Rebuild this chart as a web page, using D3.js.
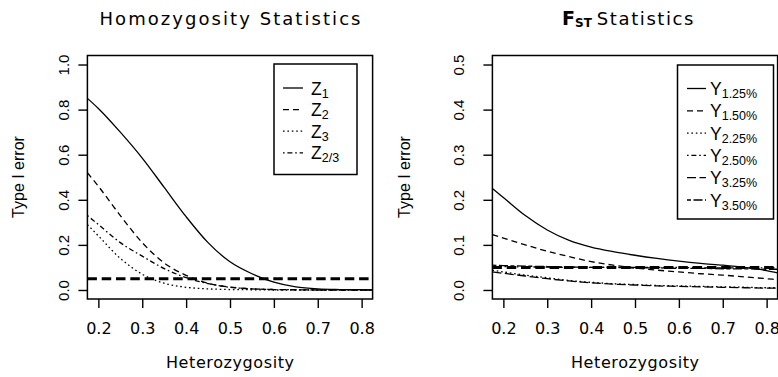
<!DOCTYPE html>
<html><head><meta charset="utf-8">
<script src="https://cdn.jsdelivr.net/npm/d3@7/dist/d3.min.js"></script>
<style>
html,body{margin:0;padding:0;background:#fff;}
svg{display:block;}
</style></head>
<body><svg id="c" width="778" height="377"></svg>
<script>
// ---------- data ----------
const het = [0.175, 0.2, 0.25, 0.3, 0.35, 0.4, 0.45, 0.5, 0.55, 0.6, 0.65, 0.7, 0.75, 0.8, 0.825];

const Z1  = [0.85, 0.805, 0.70, 0.585, 0.455, 0.325, 0.21, 0.125, 0.072, 0.035, 0.014, 0.005, 0.002, 0.001, 0.0];
const Z2  = [0.52, 0.46, 0.33, 0.21, 0.12, 0.065, 0.03, 0.013, 0.005, 0.002, 0.001, 0.0, 0.0, 0.0, 0.0];
const Z3  = [0.29, 0.24, 0.14, 0.07, 0.03, 0.012, 0.005, 0.002, 0.001, 0.0, 0.0, 0.0, 0.0, 0.0, 0.0];
const Z23 = [0.33, 0.29, 0.21, 0.15, 0.095, 0.055, 0.028, 0.012, 0.005, 0.002, 0.001, 0.0, 0.0, 0.0, 0.0];

const Y125 = [0.225, 0.205, 0.165, 0.133, 0.11, 0.095, 0.085, 0.077, 0.07, 0.064, 0.059, 0.055, 0.05, 0.043, 0.038];
const Y150 = [0.123, 0.115, 0.10, 0.086, 0.074, 0.063, 0.055, 0.049, 0.044, 0.04, 0.036, 0.033, 0.029, 0.025, 0.023];
const Y225 = [0.044, 0.040, 0.033, 0.027, 0.021, 0.017, 0.014, 0.012, 0.010, 0.009, 0.008, 0.007, 0.006, 0.005, 0.005];
const Y250 = [0.052, 0.052, 0.051, 0.051, 0.050, 0.050, 0.050, 0.050, 0.050, 0.050, 0.049, 0.049, 0.049, 0.049, 0.049];
const Y325 = [0.040, 0.037, 0.031, 0.025, 0.020, 0.016, 0.013, 0.011, 0.009, 0.008, 0.007, 0.006, 0.005, 0.004, 0.004];
const Y350 = [0.055, 0.054, 0.053, 0.052, 0.051, 0.050, 0.050, 0.049, 0.049, 0.048, 0.048, 0.047, 0.047, 0.046, 0.046];

const xTicks = [0.2, 0.3, 0.4, 0.5, 0.6, 0.7, 0.8];
const yTicksL = [0.0, 0.2, 0.4, 0.6, 0.8, 1.0];
const yTicksR = [0.0, 0.1, 0.2, 0.3, 0.4, 0.5];
const threshold = 0.05;

const zNames = [["Z","1"],["Z","2"],["Z","3"],["Z","2/3"]];
const yNames = [["Y","1.25%"],["Y","1.50%"],["Y","2.25%"],["Y","2.50%"],["Y","3.25%"],["Y","3.50%"]];

// ---------- styles ----------
const dashes = {solid:null, dashed:"6,4", dotted:"1.6,2.8", dotdash:"1.6,2.8,5,2.8", longdash:"9,3.5", twodash:"4,2.5,9,2.5"};

const svg = d3.select("#c");
const sansR = "'Liberation Sans', Arial, Helvetica, sans-serif";
const sansD = "'DejaVu Sans', Verdana, sans-serif";

function panel(o){
  const x = d3.scaleLinear().domain([0.175, 0.825]).range([o.left, o.left + 285.2]);
  const y = d3.scaleLinear().domain(o.ydom).range([o.bottom, o.top]);
  const g = svg.append("g");

  // x axis
  const xa = g.append("g").attr("transform", `translate(0,${o.bottom})`)
    .call(d3.axisBottom(x).tickValues(xTicks).tickSize(9).tickPadding(15).tickFormat(d3.format(".1f")));
  xa.select(".domain").remove();
  xa.selectAll("line").attr("stroke","#000").attr("stroke-width",1.4);
  xa.selectAll("text").attr("font-family", sansD).attr("font-size", 16).attr("fill","#000");

  // y axis
  const ya = g.append("g").attr("transform", `translate(${o.left},0)`)
    .call(d3.axisLeft(y).tickValues(o.yTicks).tickSize(9).tickFormat(d3.format(".1f")));
  ya.select(".domain").remove();
  ya.selectAll("line").attr("stroke","#000").attr("stroke-width",1.4);
  ya.selectAll("text")
    .attr("font-family", sansR).attr("font-size", 15).attr("fill","#000")
    .attr("text-anchor","middle").attr("dy", null).attr("x", null)
    .attr("transform", d => `translate(${o.ylabX - o.left},0) rotate(-90)`)
    .attr("dominant-baseline","central");

  // clip
  const cid = "clip" + o.id;
  svg.append("clipPath").attr("id", cid).append("rect")
    .attr("x", x.range()[0]).attr("y", o.top).attr("width", x.range()[1]-x.range()[0]).attr("height", o.bottom - o.top);
  const pg = g.append("g").attr("clip-path", `url(#${cid})`);

  // threshold
  pg.append("line").attr("x1", x.range()[0]).attr("x2", x.range()[1])
    .attr("y1", y(threshold)).attr("y2", y(threshold))
    .attr("stroke","#000").attr("stroke-width",3).attr("stroke-dasharray","9.5,4.8");

  const line = d3.line().x((d,i)=>x(het[i])).y(d=>y(d)).curve(d3.curveMonotoneX);
  o.series.forEach(s => {
    pg.append("path").datum(s.v).attr("d", line).attr("fill","none")
      .attr("stroke","#000").attr("stroke-width",1.3)
      .attr("stroke-dasharray", dashes[s.lty]);
  });

  // box
  g.append("rect").attr("x", x.range()[0]).attr("y", o.top)
    .attr("width", x.range()[1]-x.range()[0]).attr("height", o.bottom-o.top)
    .attr("fill","none").attr("stroke","#000").attr("stroke-width",1.5);

  // axis titles
  const cx = (x.range()[0]+x.range()[1])/2;
  g.append("text").attr("x", cx).attr("y", 368).attr("text-anchor","middle")
    .attr("font-family", sansD).attr("font-size",16).attr("textLength",128).attr("lengthAdjust","spacing")
    .text("Heterozygosity");
  g.append("text").attr("transform", `translate(${o.ytitleX},177) rotate(-90)`)
    .attr("text-anchor","middle").attr("font-family", sansR).attr("font-size",16)
    .text("Type I error");

  // legend
  const L = o.legend;
  g.append("rect").attr("x", L.x).attr("y", L.y).attr("width", L.w).attr("height", L.h)
    .attr("fill","#fff").attr("stroke","#000").attr("stroke-width",1.5);
  o.series.forEach((s,i) => {
    const ly = L.y0 + i*L.step;
    g.append("line").attr("x1", L.lx1).attr("x2", L.lx2).attr("y1", ly).attr("y2", ly)
      .attr("stroke","#000").attr("stroke-width",1.3).attr("stroke-dasharray", dashes[s.lty]);
    const t = g.append("text").attr("x", L.tx).attr("y", ly + 6.5).attr("font-family", sansR).attr("font-size",17.5);
    t.append("tspan").text(s.name[0]);
    t.append("tspan").attr("font-size",12.5).attr("dy",3).text(s.name[1]);
  });
  return {x, y, cx};
}

const left = panel({
  id:"L", left:87.4, top:55.5, bottom:299, ydom:[-0.04,1.04], yTicks:yTicksL, ylabX:63, ytitleX:24,
  series:[{v:Z1,lty:"solid",name:zNames[0]},{v:Z2,lty:"dashed",name:zNames[1]},{v:Z3,lty:"dotted",name:zNames[2]},{v:Z23,lty:"dotdash",name:zNames[3]}],
  legend:{x:274, y:64, w:83, h:110.5, y0:88, step:21.6, lx1:283, lx2:303, tx:311}
});

const right = panel({
  id:"R", left:492.4, top:55.5, bottom:299, ydom:[-0.02,0.52], yTicks:yTicksR, ylabX:458, ytitleX:410,
  series:[{v:Y125,lty:"solid",name:yNames[0]},{v:Y150,lty:"dashed",name:yNames[1]},{v:Y225,lty:"dotted",name:yNames[2]},
          {v:Y250,lty:"dotdash",name:yNames[3]},{v:Y325,lty:"longdash",name:yNames[4]},{v:Y350,lty:"twodash",name:yNames[5]}],
  legend:{x:677.5, y:65, w:96, h:154, y0:88.5, step:22.3, lx1:687, lx2:706, tx:710}
});

// titles
svg.append("text").attr("x", left.cx).attr("y", 25).attr("text-anchor","middle")
  .attr("font-family", sansD).attr("font-size",18).attr("textLength",261).attr("lengthAdjust","spacing")
  .text("Homozygosity Statistics");
const rt = svg.append("text").attr("x", 562).attr("y", 25).attr("font-family", sansD).attr("font-size",18);
rt.append("tspan").attr("font-weight","bold").attr("font-size",19).text("F");
rt.append("tspan").attr("font-weight","bold").attr("font-size",12).attr("dy",2).text("ST");
rt.append("tspan").attr("dy",-2).attr("dx",5).attr("letter-spacing",1.6).text("Statistics");
</script></body></html>
